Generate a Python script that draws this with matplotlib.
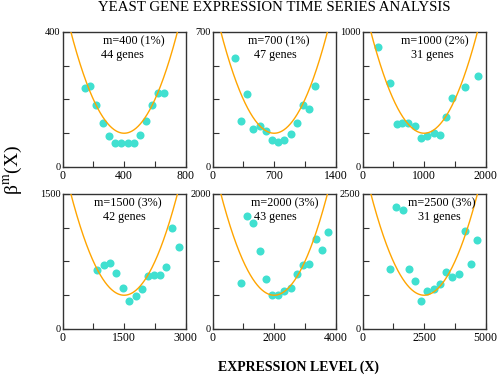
import numpy as np
import matplotlib
matplotlib.use("Agg")
import matplotlib.pyplot as plt

# ---- data ----
m_values = [400, 700, 1000, 1500, 2000, 2500]
pct_labels = ["1%", "1%", "2%", "3%", "3%", "3%"]
gene_counts = [44, 47, 31, 42, 43, 31]

x1 = [143, 181, 220, 260, 301, 341, 382, 422, 463, 501, 539, 578, 620, 659]
y1 = [233, 239, 184, 131, 93, 71, 71, 71, 71, 96, 135, 183, 218, 219]

x2 = [254, 323, 391, 463, 539, 607, 675, 747, 816, 888, 960, 1028, 1100, 1168]
y2 = [566, 237, 380, 195, 213, 187, 142, 132, 139, 171, 230, 321, 299, 418]

x3 = [244, 444, 553, 640, 742, 851, 954, 1046, 1154, 1252, 1355, 1458, 1659, 1870]
y3 = [887, 624, 316, 323, 328, 301, 213, 230, 255, 237, 368, 508, 592, 673]

x4 = [837, 1000, 1163, 1309, 1472, 1618, 1780, 1927, 2081, 2228, 2374, 2528, 2675, 2829]
y4 = [659, 710, 732, 622, 452, 308, 367, 441, 589, 600, 596, 685, 1124, 906]

x5 = [911, 1117, 1323, 1528, 1724, 1930, 2135, 2331, 2537, 2743, 2938, 3144, 3350, 3545, 3751]
y5 = [681, 1675, 1572, 1158, 740, 499, 499, 563, 603, 809, 941, 957, 1340, 1168, 1443]

x6 = [1125, 1369, 1626, 1870, 2127, 2371, 2629, 2886, 3130, 3388, 3631, 3902, 4146, 4404, 4661]
y6 = [1116, 2260, 2198, 1116, 883, 520, 711, 748, 840, 1061, 964, 1012, 1817, 1208, 1657]

xs = [x1, x2, x3, x4, x5, x6]
ys = [y1, y2, y3, y4, y5, y6]

# fitted parabola parameters: vertex location and minimum value
curve_center = [400, 700, 1000, 1500, 2000, 2500]
curve_min = [100, 175, 250, 375, 500, 625]
x_max = [800, 1400, 2000, 3000, 4000, 5000]
y_max = [400, 700, 1000, 1500, 2000, 2500]

# ---- style ----
plt.rcParams['font.family'] = ['Liberation Serif', 'DejaVu Serif']
plt.rcParams['mathtext.fontset'] = 'stix'
DOT = '#40E0D0'
CURVE = '#FFA500'
SPINE = '#333333'

fig = plt.figure(figsize=(5, 3.75), dpi=100)

lefts = [0.1253, 0.4253, 0.7253]
bottoms = [0.5547, 0.1227]
w, h = 0.246, 0.36

# annotation x positions (axes fraction)
ann1_x = [0.58, 0.54, 0.59, 0.53, 0.585, 0.647]
ann2_x = [0.49, 0.508, 0.57, 0.50, 0.51, 0.62]

for i in range(6):
    r, c = divmod(i, 3)
    ax = fig.add_axes([lefts[c], bottoms[r], w, h])
    m = m_values[i]
    xm, ym = x_max[i], y_max[i]
    cx = np.linspace(0, xm, 400)
    cy = curve_min[i] + (cx - curve_center[i]) ** 2 / curve_center[i]
    ax.plot(xs[i], ys[i], 'o', color=DOT, markersize=5.8, markeredgewidth=0, zorder=2)
    ax.plot(cx, cy, '-', color=CURVE, linewidth=1.0, zorder=3)
    ax.set_xlim(0, xm)
    ax.set_ylim(0, ym)
    ax.set_xticks([0, xm / 2, xm])
    ax.set_xticklabels(["0", f"{int(xm/2)}", f"{int(xm)}"])
    ax.set_xticks([xm / 4, 3 * xm / 4], minor=True)
    ax.set_yticks([0, ym])
    ax.set_yticklabels(["0", f"{int(ym)}"])
    ax.set_yticks([ym / 4, ym / 2, 3 * ym / 4], minor=True)
    ax.tick_params(axis='x', which='both', direction='in', labelsize=8.5, pad=2,
                   color=SPINE, length=4, width=0.8)
    ax.tick_params(axis='y', which='both', direction='in', labelsize=7.5, pad=1.5,
                   color=SPINE, length=4, width=0.8)
    for s in ax.spines.values():
        s.set_color(SPINE)
        s.set_linewidth(1.0)
    ax.text(ann1_x[i], 0.93, f"m={m} ({pct_labels[i]})", transform=ax.transAxes,
            ha='center', va='center', fontsize=8.7)
    ax.text(ann2_x[i], 0.83, f"{gene_counts[i]} genes", transform=ax.transAxes,
            ha='center', va='center', fontsize=8.7)

fig.text(0.549, 0.981, "YEAST GENE EXPRESSION TIME SERIES ANALYSIS",
         ha='center', va='center', fontsize=10.7)
fig.text(0.597, 0.021, "EXPRESSION LEVEL (X)", ha='center', va='center',
         fontsize=10, fontweight='bold')
fig.text(0.026, 0.547, r"β$^{\mathrm{m}}$(X)", ha='center', va='center',
         rotation=90, fontsize=14)

fig.savefig("out.png", dpi=100)
